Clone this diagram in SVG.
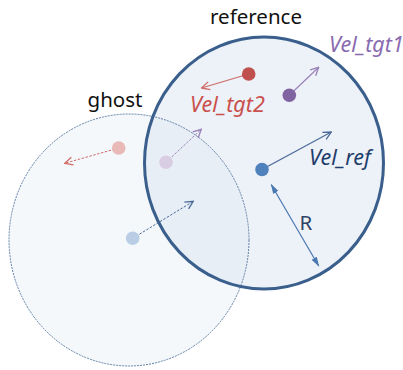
<svg xmlns="http://www.w3.org/2000/svg" width="403" height="370" viewBox="0 0 403 370">
  <style>
    .lbl { font-family: "Noto Sans", "Liberation Sans", sans-serif; font-size: 20.5px; }
    .vel { font-family: "Noto Sans", "Liberation Sans", sans-serif; font-size: 21.5px; font-style: italic; }
    .ghost-arrow { stroke-width: 1; stroke-dasharray: 2.5 1.5; fill: none; }
    .arrow { stroke-width: 1.2; fill: none; }
  </style>
  <defs>
    <marker id="headRed" viewBox="0 0 10 10" refX="9" refY="5" markerWidth="10" markerHeight="10" markerUnits="userSpaceOnUse" orient="auto">
      <path d="M1,1 L9,5 L1,9" fill="none" stroke="#d06a68" stroke-width="1.3"/>
    </marker>
    <marker id="headPurple" viewBox="0 0 10 10" refX="9" refY="5" markerWidth="10" markerHeight="10" markerUnits="userSpaceOnUse" orient="auto">
      <path d="M1,1 L9,5 L1,9" fill="none" stroke="#9a82b8" stroke-width="1.3"/>
    </marker>
    <marker id="headBlue" viewBox="0 0 10 10" refX="9" refY="5" markerWidth="10" markerHeight="10" markerUnits="userSpaceOnUse" orient="auto">
      <path d="M1,1 L9,5 L1,9" fill="none" stroke="#4a6a98" stroke-width="1.3"/>
    </marker>
    <marker id="headR" viewBox="0 0 10 10" refX="9" refY="5" markerWidth="10" markerHeight="10" markerUnits="userSpaceOnUse" orient="auto-start-reverse">
      <path d="M0,2 L10,5 L0,8 Z" fill="#4a78b0"/>
    </marker>
  </defs>

  <!-- areas -->
  <g id="ghost">
    <ellipse cx="129" cy="240" rx="120" ry="126" fill="#dfe7f3" fill-opacity="0.3"/>
  </g>
  <g id="reference">
    <ellipse cx="264" cy="163" rx="119.5" ry="126" fill="#dbe4f2" fill-opacity="0.5"/>
  </g>
  <ellipse cx="129" cy="240" rx="120" ry="126" fill="none" stroke="#5f7fa6" stroke-width="1" stroke-dasharray="2 1"/>
  <ellipse cx="264" cy="163" rx="119.5" ry="126" fill="none" stroke="#3a5f8c" stroke-width="3"/>

  <!-- connectors -->
  <g id="connectors">
    <line class="arrow" x1="248.7" y1="74" x2="201.5" y2="88" stroke="#d06a68" marker-end="url(#headRed)"/>
    <line class="arrow" x1="289.3" y1="95.3" x2="318.7" y2="67.3" stroke="#9a82b8" marker-end="url(#headPurple)"/>
    <line class="arrow" x1="262" y1="169.5" x2="331.3" y2="132" stroke="#4a6a98" marker-end="url(#headBlue)"/>
    <line class="arrow" x1="271.3" y1="184.7" x2="318.7" y2="266" stroke="#4a78b0" marker-start="url(#headR)" marker-end="url(#headR)"/>
    <line class="ghost-arrow" x1="118.7" y1="148" x2="64.7" y2="163.3" stroke="#d06a68" marker-end="url(#headRed)"/>
    <line class="ghost-arrow" x1="166" y1="162.3" x2="201.3" y2="129.3" stroke="#9a82b8" marker-end="url(#headPurple)"/>
    <line class="ghost-arrow" x1="132.7" y1="238.3" x2="193.3" y2="201.3" stroke="#4a6a98" marker-end="url(#headBlue)"/>
  </g>

  <!-- points -->
  <g id="tgt2">
    <circle cx="248.7" cy="74" r="6.8" fill="#c0504d"/>
  </g>
  <g id="tgt1">
    <circle cx="289.3" cy="95.3" r="6.8" fill="#8064a2"/>
  </g>
  <g id="ref-point">
    <circle cx="262" cy="169.5" r="6.8" fill="#4f81bd"/>
  </g>
  <g id="ghost-tgt2">
    <circle cx="118.7" cy="148" r="6.8" fill="#e9b9b8"/>
  </g>
  <g id="ghost-tgt1">
    <circle cx="166" cy="162.3" r="6.8" fill="#d9cde3"/>
  </g>
  <g id="ghost-ref">
    <circle cx="132.7" cy="238.3" r="6.8" fill="#b9cde5"/>
  </g>

  <!-- labels -->
  <text class="lbl" x="256" y="24" text-anchor="middle" fill="#111">reference</text>
  <text class="lbl" x="115" y="107" text-anchor="middle" fill="#111">ghost</text>
  <text class="vel" x="329" y="52" fill="#8a6bb0">Vel_tgt1</text>
  <text class="vel" x="190" y="112" fill="#c9504c">Vel_tgt2</text>
  <text class="vel" x="309" y="165" fill="#1f3d6b">Vel_ref</text>
  <text class="lbl" x="306" y="230" text-anchor="middle" fill="#2e4466">R</text>
</svg>
